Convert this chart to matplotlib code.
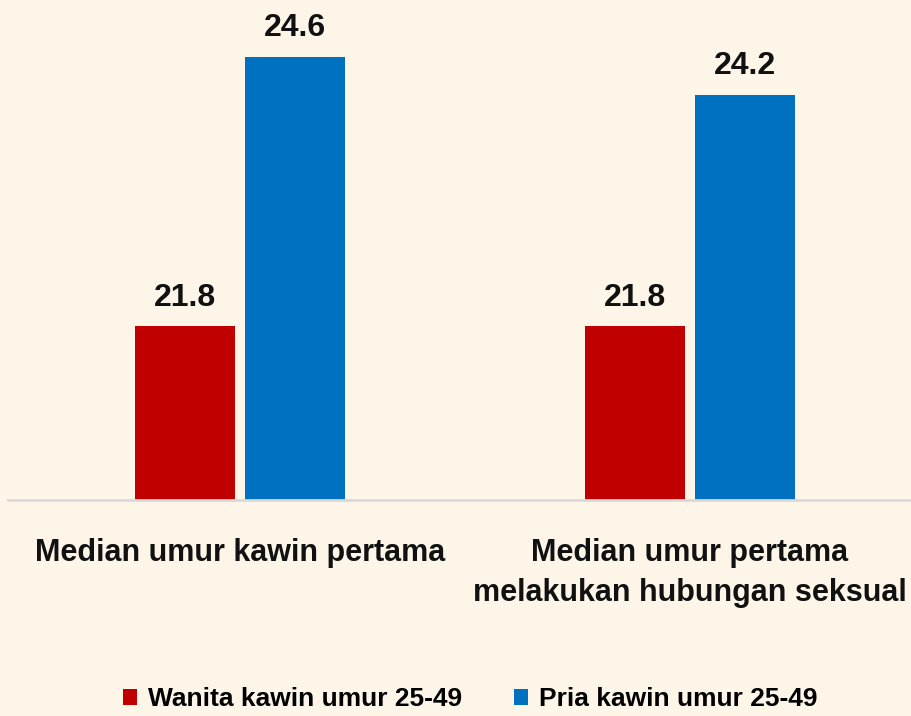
import matplotlib
matplotlib.use("Agg")
import matplotlib.pyplot as plt
import numpy as np
from matplotlib.patches import Patch

plt.rcParams['font.family'] = ['Liberation Sans', 'DejaVu Sans']

categories = ["Median umur kawin pertama", "Median umur pertama\nmelakukan hubungan seksual"]
series_names = ["Wanita kawin umur 25-49", "Pria kawin umur 25-49"]
wanita = [21.8, 21.8]
pria = [24.6, 24.2]
colors = ["#C00000", "#0070C0"]
bg = "#FCF5E8"

W, H = 911, 716
fig = plt.figure(figsize=(W / 100, H / 100), dpi=100, facecolor=bg)
ax = fig.add_axes([8 / W, (H - 500) / H, 906.75 / W, 482 / H], facecolor=bg)

x = np.arange(len(categories))
bw = 0.222
off = 0.122
b1 = ax.bar(x - off, wanita, bw, color=colors[0])
b2 = ax.bar(x + off, pria, bw, color=colors[1])
ax.set_ylim(20, 25)
ax.set_xlim(-0.515, 1.5)

for bars, vals in ((b1, wanita), (b2, pria)):
    for r, v in zip(bars, vals):
        ax.annotate(f"{v:.1f}", (r.get_x() + r.get_width() / 2, v), xytext=(0, 10),
                    textcoords="offset points", ha="center", va="bottom",
                    fontsize=23, fontweight="bold", color="#111111")

for s in ["top", "right", "left"]:
    ax.spines[s].set_visible(False)
ax.spines["bottom"].set_color("#D9D9D9")
ax.spines["bottom"].set_linewidth(2)
ax.set_yticks([])
ax.set_xticks(x)
ax.set_xticklabels(categories, fontsize=22, fontweight="bold", color="#111111", linespacing=1.45)
ax.tick_params(axis="x", length=0, pad=27)

handles = [Patch(facecolor=c, edgecolor="none") for c in colors]
fig.legend(handles, series_names, loc="center", bbox_to_anchor=(0.516, (H - 699) / H),
           ncol=2, frameon=False, prop={"weight": "bold", "size": 19},
           handlelength=0.55, handleheight=0.55, handletextpad=0.4, columnspacing=1.95)

fig.savefig("out.png", dpi=100, facecolor=bg)
